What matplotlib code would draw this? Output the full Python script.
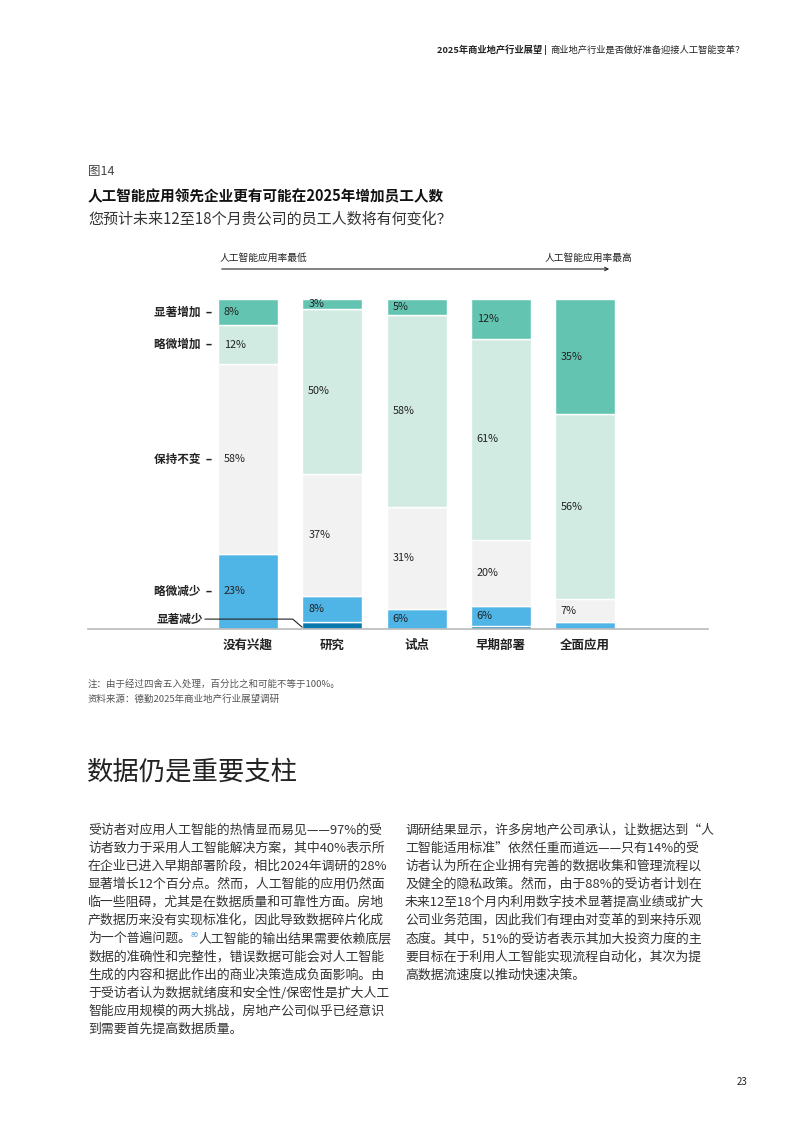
import matplotlib.pyplot as plt
import numpy as np

plt.rcParams['font.family'] = ['Noto Sans CJK SC', 'DejaVu Sans']

# data (percent), bottom -> top
categories = ["没有兴趣", "研究", "试点", "早期部署", "全面应用"]
series_names = ["显著减少", "略微减少", "保持不变", "略微增加", "显著增加"]
sig_decrease = [0, 2, 0, 1, 0]
sl_decrease = [23, 8, 6, 6, 2]
no_change = [58, 37, 31, 20, 7]
sl_increase = [12, 50, 58, 61, 56]
sig_increase = [8, 3, 5, 12, 35]
colors = ["#0A78AE", "#4FB4E6", "#F2F2F2", "#D1EBE3", "#63C5B1"]

W, H = 793, 1122
fig = plt.figure(figsize=(W / 100, H / 100), dpi=100)


def fx(x):
    return x / W


def fy(y):
    return 1 - y / H


dark = "#222222"
body = "#333333"

# header
r = fig.canvas.get_renderer()
t2 = fig.text(fx(745), fy(50), "商业地产行业是否做好准备迎接人工智能变革？", fontsize=6.7,
              color=dark, ha="right", va="center")
bb = t2.get_window_extent(r)
fig.text(bb.x0 / W - fx(4), fy(50), "2025年商业地产行业展望 |", fontsize=6.7,
         color=dark, ha="right", va="center", weight="bold")

# titles
fig.text(fx(88), fy(172), "图14", fontsize=9, color="#444444", va="center")
fig.text(fx(88), fy(196), "人工智能应用领先企业更有可能在2025年增加员工人数", fontsize=10.5,
         weight="bold", color="#111111", va="center")
fig.text(fx(88), fy(219), "您预计未来12至18个月贵公司的员工人数将有何变化？", fontsize=10.85,
         color="#333333", va="center")

# adoption arrow
fig.text(fx(220), fy(258), "人工智能应用率最低", fontsize=7, color=dark, va="center")
fig.text(fx(632), fy(258), "人工智能应用率最高", fontsize=7, color=dark, va="center", ha="right")
fig.add_artist(plt.Annotation("", xy=(fx(612), fy(269)), xytext=(fx(219), fy(269)),
                              xycoords="figure fraction", textcoords="figure fraction",
                              arrowprops=dict(arrowstyle="->", lw=0.8, color=dark,
                                              mutation_scale=6)))

# chart
ax = fig.add_axes([fx(88), fy(629), 620 / W, 330 / H])
ax.set_xlim(-1.9, 5.46)
ax.set_ylim(0, 100)
ax.axis("off")

stack = np.array([sig_decrease, sl_decrease, no_change, sl_increase, sig_increase], dtype=float)
heights = stack / stack.sum(axis=0) * 100
x = np.arange(len(categories))
bw = 0.712
bottom = np.zeros(len(categories))
for i in range(len(series_names)):
    ax.bar(x, heights[i], bw, bottom=bottom, color=colors[i], edgecolor="white",
           linewidth=1.0)
    for j in range(len(categories)):
        if stack[i, j] >= 3:
            ax.text(x[j] - bw / 2 + 0.07, bottom[j] + heights[i, j] / 2, f"{int(stack[i, j])}%",
                    fontsize=7.8, color=dark, va="center", ha="left")
    bottom = bottom + heights[i]

ax.plot([-1.9, 5.46], [0, 0], color="#bbbbbb", lw=1.2, clip_on=False, zorder=5)

# series labels next to first bar
lab_x = -0.43
b0 = np.cumsum(heights[:, 0]) - heights[:, 0] / 2
for i in range(1, len(series_names)):
    ax.text(lab_x, b0[i], series_names[i] + "  –", fontsize=8.4, weight="bold", color=dark,
            ha="right", va="center")
ax.text(-0.53, 3, series_names[0], fontsize=8.4, weight="bold", color=dark, ha="right",
        va="center")
ax.plot([-0.51, 0.53, 0.64], [3, 3, 0.6], color=dark, lw=0.8, clip_on=False)

for j, c in enumerate(categories):
    ax.text(x[j], -4.9, c, fontsize=9, weight="bold", color=dark, ha="center", va="center")

# notes
fig.text(fx(88), fy(684), "注：由于经过四舍五入处理，百分比之和可能不等于100%。", fontsize=6.8,
         color="#555555", va="center")
fig.text(fx(88), fy(699), "资料来源：德勤2025年商业地产行业展望调研", fontsize=6.8,
         color="#555555", va="center")

# section heading
fig.text(fx(87), fy(772), "数据仍是重要支柱", fontsize=19, color="#222222", va="center")

left_lines = [
    "受访者对应用人工智能的热情显而易见——97%的受",
    "访者致力于采用人工智能解决方案，其中40%表示所",
    "在企业已进入早期部署阶段，相比2024年调研的28%",
    "显著增长12个百分点。然而，人工智能的应用仍然面",
    "临一些阻碍，尤其是在数据质量和可靠性方面。房地",
    "产数据历来没有实现标准化，因此导致数据碎片化成",
    None,
    "数据的准确性和完整性，错误数据可能会对人工智能",
    "生成的内容和据此作出的商业决策造成负面影响。由",
    "于受访者认为数据就绪度和安全性/保密性是扩大人工",
    "智能应用规模的两大挑战，房地产公司似乎已经意识",
    "到需要首先提高数据质量。",
]
right_lines = [
    "调研结果显示，许多房地产公司承认，让数据达到“人",
    "工智能适用标准”依然任重而道远——只有14%的受",
    "访者认为所在企业拥有完善的数据收集和管理流程以",
    "及健全的隐私政策。然而，由于88%的受访者计划在",
    "未来12至18个月内利用数字技术显著提高业绩或扩大",
    "公司业务范围，因此我们有理由对变革的到来持乐观",
    "态度。其中，51%的受访者表示其加大投资力度的主",
    "要目标在于利用人工智能实现流程自动化，其次为提",
    "高数据流速度以推动快速决策。",
]
lh = 18.1
fs = 9.3
for k, line in enumerate(left_lines):
    y = fy(830 + k * lh)
    if line is None:
        ta = fig.text(fx(88), y, "为一个普遍问题。", fontsize=fs, color=body, va="center")
        e = ta.get_window_extent(r)
        tb = fig.text(e.x1 / W, y + 4 / H, "80", fontsize=5, color="#3a8fc8",
                      va="center")
        e2 = tb.get_window_extent(r)
        fig.text(e2.x1 / W, y, "人工智能的输出结果需要依赖底层", fontsize=fs,
                 color=body, va="center")
    else:
        fig.text(fx(88), y, line, fontsize=fs, color=body, va="center")
for k, line in enumerate(right_lines):
    fig.text(fx(405), fy(830 + k * lh), line, fontsize=fs, color=body, va="center")

fig.text(fx(748), fy(1082), "23", fontsize=7, color=dark, va="center", ha="right")

fig.savefig("out.png", dpi=100)
